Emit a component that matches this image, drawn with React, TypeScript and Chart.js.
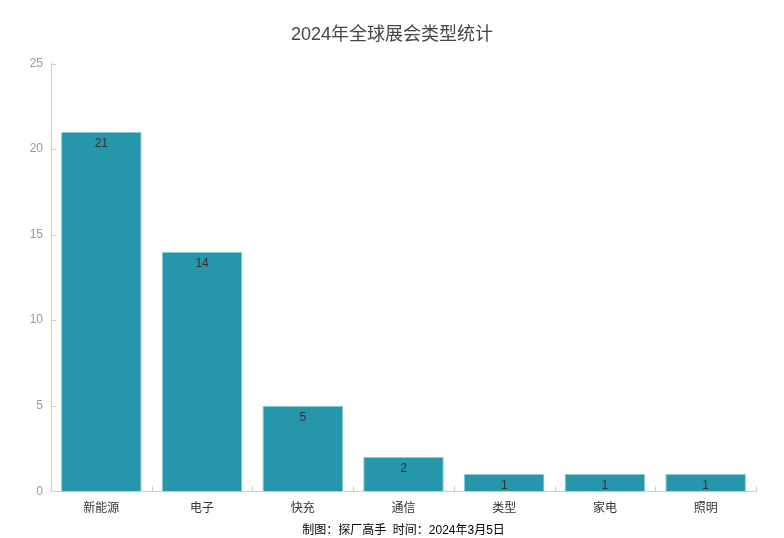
import React, { useEffect, useRef } from "react";
import { Chart, registerables } from "chart.js";

Chart.register(...registerables);

const categories = ["新能源", "电子", "快充", "通信", "类型", "家电", "照明"];
const counts = [21, 14, 5, 2, 1, 1, 1];
const yTicks = [0, 5, 10, 15, 20, 25];
const titleText = "2024年全球展会类型统计";
const footerText = "制图：探厂高手  时间：2024年3月5日";

const FONT = 'Arial, "Liberation Sans", "Noto Sans CJK SC", sans-serif';

const innerTicks = {
  id: "innerTicks",
  afterDraw(chart: any) {
    const { ctx, scales } = chart;
    const x = scales.x;
    const y = scales.y;
    ctx.save();
    ctx.strokeStyle = "#cccccc";
    ctx.lineWidth = 1;
    yTicks.forEach((v) => {
      const py = Math.round(y.getPixelForValue(v)) + 0.5;
      ctx.beginPath();
      ctx.moveTo(x.left, py);
      ctx.lineTo(x.left + 5, py);
      ctx.stroke();
    });
    for (let i = 0; i <= categories.length; i++) {
      const px = Math.round(x.getPixelForValue(i - 0.5)) + 0.5;
      ctx.beginPath();
      ctx.moveTo(px, y.bottom);
      ctx.lineTo(px, y.bottom - 5);
      ctx.stroke();
    }
    const meta = chart.getDatasetMeta(0);
    ctx.fillStyle = "#333333";
    ctx.font = `12px ${FONT}`;
    ctx.textAlign = "center";
    ctx.textBaseline = "middle";
    meta.data.forEach((bar: any, i: number) => {
      ctx.fillText(String(counts[i]), bar.x, bar.y + 12);
    });
    ctx.restore();
  },
};

export default function App() {
  const ref = useRef<HTMLCanvasElement | null>(null);
  useEffect(() => {
    if (!ref.current) return;
    const chart = new Chart(ref.current, {
      type: "bar",
      data: {
        labels: categories,
        datasets: [
          {
            data: counts,
            backgroundColor: "#2696ab",
            borderColor: "#8ccad6",
            borderWidth: 1,
            categoryPercentage: 0.8,
            barPercentage: 1,
          },
        ],
      },
      plugins: [innerTicks],
      options: {
        animation: false,
        responsive: true,
        maintainAspectRatio: false,
        layout: { padding: { left: 14, right: 14, top: 24, bottom: 0 } },
        plugins: {
          legend: { display: false },
          tooltip: { enabled: false },
          title: {
            display: true,
            text: titleText,
            color: "#464646",
            font: { family: FONT, size: 18, weight: "normal" },
            padding: { top: 0, bottom: 18 },
          },
        },
        scales: {
          x: {
            grid: { display: false, drawTicks: false },
            border: { display: true, color: "#cccccc" },
            ticks: { color: "#333333", font: { family: FONT, size: 12 }, padding: 10 },
            title: {
              display: true,
              text: footerText,
              color: "#000000",
              font: { family: FONT, size: 12 },
              padding: { top: -2, bottom: 0 },
            },
          },
          y: {
            min: 0,
            max: 25,
            afterBuildTicks: (s: any) => {
              s.ticks = yTicks.map((v) => ({ value: v }));
            },
            afterFit: (s: any) => {
              s.width = 37;
            },
            grid: { display: false, drawTicks: false },
            border: { display: true, color: "#cccccc" },
            ticks: { color: "#999999", font: { family: FONT, size: 12 }, padding: 8 },
          },
          yRight: {
            position: "right",
            display: true,
            min: 0,
            max: 25,
            afterFit: (s: any) => {
              s.width = 14;
            },
            grid: { display: false, drawTicks: false },
            border: { display: false },
            ticks: { display: false },
          },
        },
      },
    });
    return () => chart.destroy();
  }, []);
  return (
    <div style={{ position: "fixed", left: 0, top: 0, width: 784, height: 538 }}>
      <canvas ref={ref} />
    </div>
  );
}
